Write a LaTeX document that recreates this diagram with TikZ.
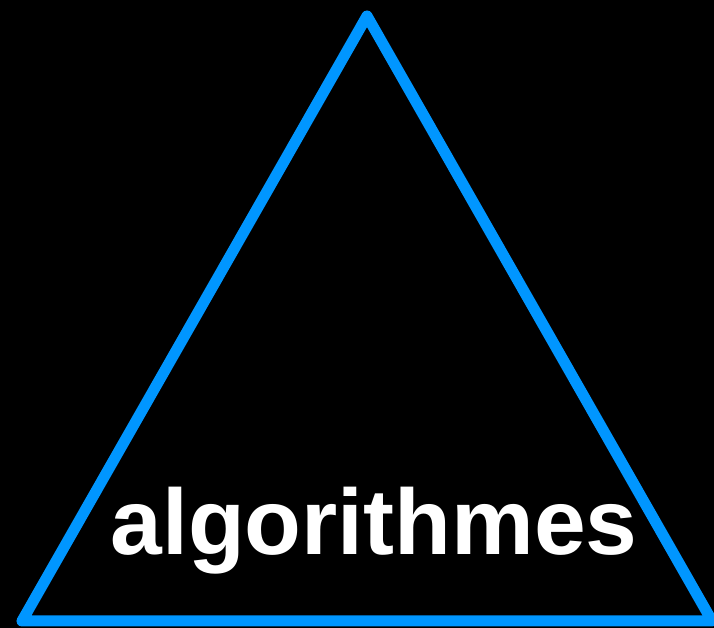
\documentclass[tikz,border=0pt]{standalone}
\usepackage{fontspec}
\setmainfont{Liberation Sans}
\definecolor{triblue}{HTML}{0096FF}
\begin{document}
\begin{tikzpicture}[x=1bp,y=1bp,
  tri/.style={draw=triblue,line width=11bp,line join=round,line cap=round},
  lbl/.style={text=white,font=\fontsize{93bp}{100bp}\selectfont\bfseries,inner sep=0pt,anchor=base}]
\fill[black] (0,0) rectangle (714,628);
\useasboundingbox (0,0) rectangle (714,628);
\coordinate (apex) at (367,612);
\coordinate (bl) at (22,7);
\coordinate (br) at (712,7);
\draw[tri] (apex) -- (bl) -- (br) -- cycle;
\node[lbl] (txt) at (374,73) {algorithmes};
\end{tikzpicture}
\end{document}
